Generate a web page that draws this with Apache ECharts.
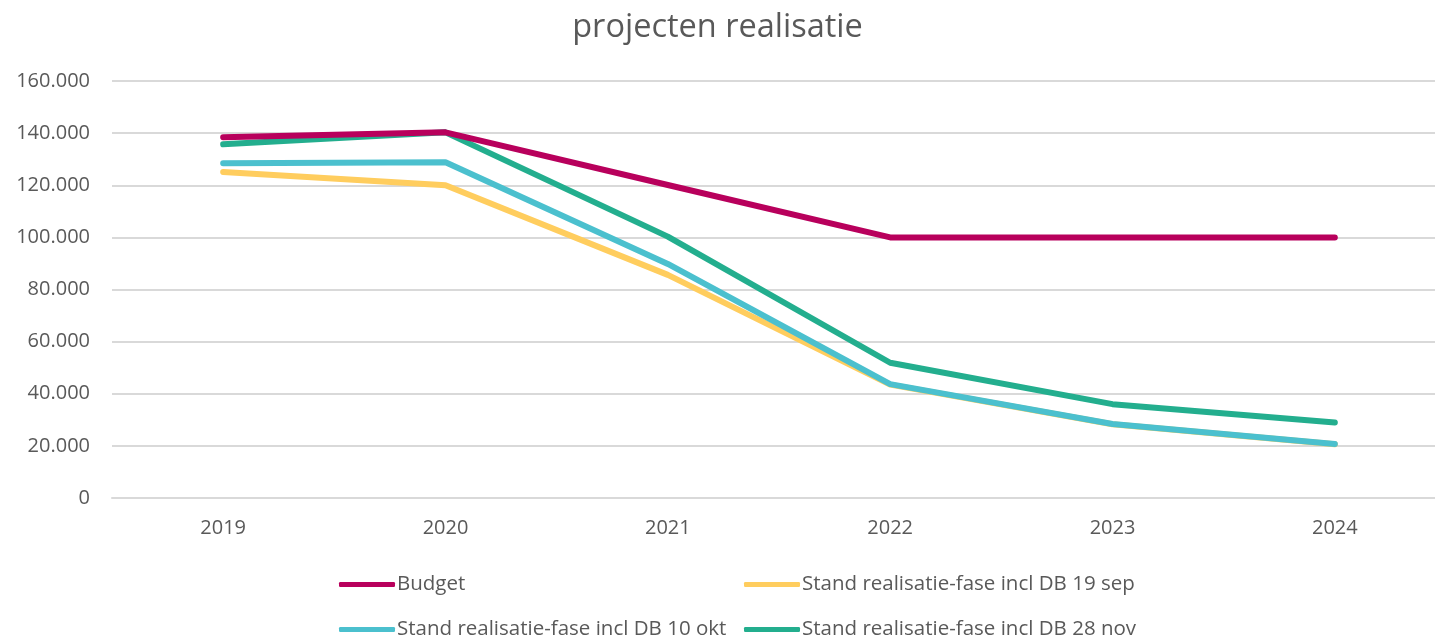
<!DOCTYPE html>
<html>
<head>
<meta charset="utf-8">
<title>projecten realisatie</title>
<script src="https://cdn.jsdelivr.net/npm/echarts@6/dist/echarts.min.js"></script>
<style>
  html, body { margin: 0; padding: 0; background: #fff; }
  #grafico { width: 1435px; height: 637px; }
</style>
</head>
<body>
<div id="grafico"></div>
<script>
// datos del grafico
var jaren = ["2019", "2020", "2021", "2022", "2023", "2024"];
var budget = [138400, 140300, 120100, 100000, 100000, 100000];
var stand19sep = [125100, 120000, 85600, 43500, 28300, 20600];
var stand10okt = [128400, 128800, 89800, 43700, 28400, 20700];
var stand28nov = [135700, 140300, 100300, 51900, 36000, 29000];
var yTicks = [0, 20000, 40000, 60000, 80000, 100000, 120000, 140000, 160000];

var namen = [
  "Budget",
  "Stand realisatie-fase incl DB 19 sep",
  "Stand realisatie-fase incl DB 10 okt",
  "Stand realisatie-fase incl DB 28 nov"
];
var kleuren = ["#B8005C", "#FFCD5E", "#4BC0CE", "#23AE8E"];

var fuente = "'Open Sans', 'Noto Sans', sans-serif";
var gris = "#595959";

function miles(v) {
  // 160000 -> 160.000
  return String(v).replace(/\B(?=(\d{3})+(?!\d))/g, ".");
}

// una leyenda por elemento, para colocar las columnas como en el original
function leyenda(nombre, left, top) {
  return {
    data: [nombre],
    left: left,
    top: top,
    icon: "roundRect",
    itemWidth: 56,
    itemHeight: 5,
    itemGap: 0,
    textStyle: { color: gris, fontSize: 20.5, fontFamily: fuente, padding: [0, 0, 0, -3] }
  };
}

var myChart = echarts.init(document.getElementById("grafico"));

var series = [budget, stand19sep, stand10okt, stand28nov].map(function (d, i) {
  return {
    name: namen[i],
    type: "line",
    data: d,
    symbol: "none",
    color: kleuren[i],
    lineStyle: { width: 6, color: kleuren[i], cap: "round", join: "round" },
    z: [4, 2, 3, 3][i]
  };
});

var option = {
  animation: false,
  title: {
    text: "projecten realisatie",
    left: "center",
    top: 6,
    textStyle: { color: gris, fontSize: 32.5, fontWeight: "normal", fontFamily: fuente }
  },
  legend: [
    leyenda(namen[0], 334, 569),
    leyenda(namen[1], 739, 569),
    leyenda(namen[2], 334, 614),
    leyenda(namen[3], 739, 614)
  ],
  grid: { left: 112, top: 81, width: 1334, height: 417, outerBoundsMode: "none", containLabel: false },
  xAxis: {
    type: "category",
    data: jaren,
    boundaryGap: true,
    axisLine: { lineStyle: { color: "#D9D9D9", width: 2 } },
    axisTick: { show: false },
    axisLabel: { color: gris, fontSize: 20, fontFamily: fuente, margin: 20 }
  },
  yAxis: {
    type: "value",
    min: yTicks[0],
    max: yTicks[yTicks.length - 1],
    interval: 20000,
    axisLine: { show: false },
    axisTick: { show: false },
    splitLine: { lineStyle: { color: "#D9D9D9", width: 2 } },
    axisLabel: { color: gris, fontSize: 20, fontFamily: fuente, margin: 22, formatter: miles }
  },
  series: series
};

myChart.setOption(option);
</script>
</body>
</html>
